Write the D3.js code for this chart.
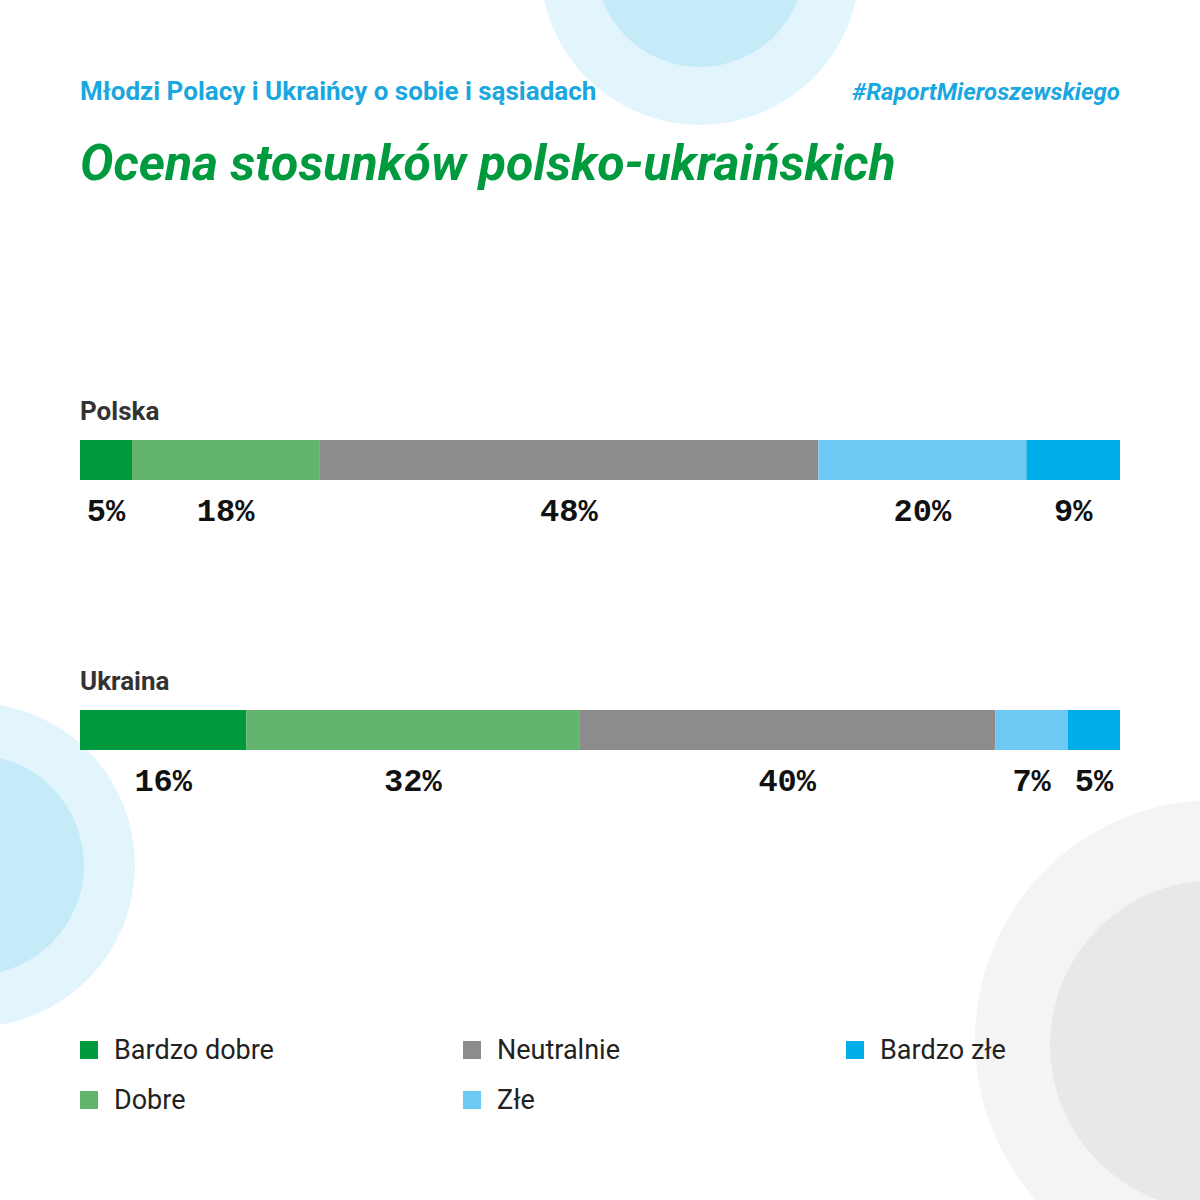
<!DOCTYPE html>
<html><head><meta charset="utf-8">
<script src="https://cdn.jsdelivr.net/npm/d3@7"></script>
<style>body{margin:0;background:#fff}</style>
</head><body>
<div id="chart"></div>
<script>
let categories = ["Bardzo dobre", "Dobre", "Neutralnie", "Złe", "Bardzo złe"];
let countries = ["Polska", "Ukraina"];
let polska = [5, 18, 48, 20, 9];
let ukraina = [16, 32, 40, 7, 5];
let colors = ["#009a3e", "#63b46c", "#8c8c8c", "#6dc8f3", "#00aeea"];

let width = 1200, height = 1200;
let narrow = "'Liberation Sans Narrow', 'Roboto', sans-serif";

let svg = d3.select("#chart").append("svg")
  .attr("width", width).attr("height", height);

// decorative circles
let deco = [
  [700, -35, 160, "#e3f5fc"], [700, -38, 105, "#c5ebf9"],
  [-27, 865, 162, "#e3f5fc"], [-26, 865, 110, "#c5ebf9"],
  [1215, 1040, 240, "#f4f4f4"], [1215, 1045, 165, "#e8e8e8"]
];
deco.forEach(d => svg.append("circle")
  .attr("cx", d[0]).attr("cy", d[1]).attr("r", d[2]).attr("fill", d[3]));

svg.append("text").attr("x", 80).attr("y", 100)
  .attr("font-family", narrow).attr("font-weight", "bold").attr("font-size", 26)
  .attr("fill", "#1aa7e0").text("Młodzi Polacy i Ukraińcy o sobie i sąsiadach");
svg.append("text").attr("x", 1120).attr("y", 100).attr("text-anchor", "end")
  .attr("font-family", narrow).attr("font-weight", "bold").attr("font-style", "italic")
  .attr("font-size", 24).attr("fill", "#1aa7e0").text("#RaportMieroszewskiego");
svg.append("text").attr("x", 80).attr("y", 180)
  .attr("font-family", narrow).attr("font-weight", "bold").attr("font-style", "italic")
  .attr("font-size", 50).attr("fill", "#009a3e").text("Ocena stosunków polsko-ukraińskich");

let x = d3.scaleLinear().domain([0, 100]).range([80, 1120]);
let y = d3.scaleBand().domain(countries).range([440, 980]).paddingInner(0);
let color = d3.scaleOrdinal().domain(categories).range(colors);

[polska, ukraina].forEach((vals, i) => {
  let top = y(countries[i]) - (i === 0 ? 0 : 0);
  let yy = i === 0 ? 440 : 710;
  svg.append("text").attr("x", 80).attr("y", yy - 20)
    .attr("font-family", narrow).attr("font-weight", "bold").attr("font-size", 26)
    .attr("fill", "#333").text(countries[i]);
  let cum = 0;
  let segs = vals.map((v, j) => { let s = { cat: categories[j], v, x0: cum }; cum += v; return s; });
  let g = svg.append("g");
  g.selectAll("rect").data(segs).enter().append("rect")
    .attr("x", d => x(d.x0)).attr("y", yy)
    .attr("width", d => x(d.x0 + d.v) - x(d.x0)).attr("height", 40)
    .attr("fill", d => color(d.cat));
  g.selectAll("text").data(segs).enter().append("text")
    .attr("x", d => x(d.x0 + d.v / 2)).attr("y", yy + 81)
    .attr("text-anchor", "middle")
    .attr("font-family", "'Liberation Mono', 'DejaVu Sans Mono', monospace")
    .attr("font-weight", "bold").attr("font-size", 32).attr("fill", "#111")
    .text(d => d.v + "%");
});

let legendPos = [[80, 1050], [80, 1100], [463, 1050], [463, 1100], [846, 1050]];
categories.forEach((c, i) => {
  let [lx, ly] = legendPos[i];
  svg.append("rect").attr("x", lx).attr("y", ly - 9).attr("width", 18).attr("height", 18)
    .attr("fill", color(c));
  svg.append("text").attr("x", lx + 34).attr("y", ly + 9)
    .attr("font-family", narrow).attr("font-size", 27).attr("fill", "#222").text(c);
});
</script>
</body></html>
